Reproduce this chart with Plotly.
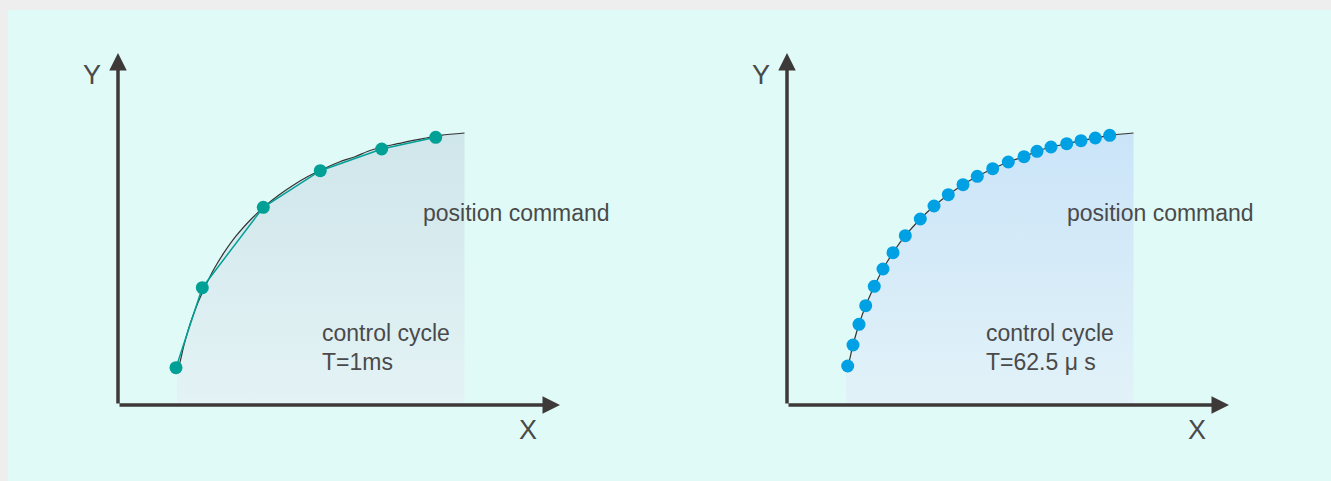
import plotly.graph_objects as go

# position command curve (same shape in both panels)
command_x = [59, 60.7, 66, 72, 78.7, 87.3, 96, 106, 118.3, 133.3, 147, 161.3, 176, 190.3,
             205.7, 221.3, 237, 250, 264, 279.7, 294, 308.3, 322.7, 346.5]
command_y = [37, 39, 60, 80.7, 99.3, 118.7, 136, 152.3, 169.3, 186, 199, 210.3, 220.3, 228.7,
             236.3, 243, 248.3, 253.7, 258, 261.3, 264.3, 267, 269.7, 272]

# samples at T=1ms
slow_x = [58, 84.3, 145.3, 202.3, 263.7, 317.7]
slow_y = [37.3, 117.3, 197.7, 234.3, 256, 267.7]

# samples at T=62.5us
fast_x = [60.7, 66, 72, 78.7, 87.3, 96, 106, 118.3, 133.3, 147, 161.3, 176, 190.3, 205.7,
          221.3, 237, 250, 264, 279.7, 294, 308.3, 322.7]
fast_y = [39, 60, 80.7, 99.3, 118.7, 136, 152.3, 169.3, 186, 199, 210.3, 220.3, 228.7, 236.3,
          243, 248.3, 253.7, 258, 261.3, 264.3, 267, 269.7]

panels = [
    dict(xa="x", ya="y", dots_x=slow_x, dots_y=slow_y, dot_color="#00A096",
         link_color="#00A096", fill=["#E4F3F5", "#CFE6EB"],
         cycle="T=1ms", label_x=[303, 202]),
    dict(xa="x2", ya="y2", dots_x=fast_x, dots_y=fast_y, dot_color="#00A0E4",
         link_color=None, fill=["#E2F2F8", "#CAE4F8"],
         cycle="T=62.5 μ s", label_x=[278, 197]),
]

ink = "#3d3939"
text_col = "#4a4a4a"
font = "Liberation Sans, Arial, sans-serif"

fig = go.Figure()
annotations = []

for p in panels:
    # shaded area under the command
    fig.add_trace(go.Scatter(
        x=command_x, y=command_y, xaxis=p["xa"], yaxis=p["ya"],
        mode="none", fill="tozeroy",
        fillgradient=dict(type="vertical", start=0, stop=272,
                          colorscale=[[0, p["fill"][0]], [1, p["fill"][1]]]),
        hoverinfo="skip"))
    # command curve
    fig.add_trace(go.Scatter(
        x=command_x, y=command_y, xaxis=p["xa"], yaxis=p["ya"],
        mode="lines", line=dict(color="#333333", width=1.2, shape="spline"),
        hoverinfo="skip"))
    # sampled points
    fig.add_trace(go.Scatter(
        x=p["dots_x"], y=p["dots_y"], xaxis=p["xa"], yaxis=p["ya"],
        mode="lines+markers" if p["link_color"] else "markers",
        line=dict(color=p["link_color"] or p["dot_color"], width=1.5),
        marker=dict(color=p["dot_color"], size=13)))

    # axis arrows
    for tip in [(0, 352), (442, 0)]:
        annotations.append(dict(
            x=tip[0], y=tip[1], ax=0, ay=0, xref=p["xa"], yref=p["ya"],
            axref=p["xa"], ayref=p["ya"], text="", showarrow=True,
            arrowhead=2, arrowsize=1.0, arrowwidth=3.5, arrowcolor=ink))

    annotations += [
        dict(x=-26, y=330, text="Y", xref=p["xa"], yref=p["ya"], showarrow=False,
             font=dict(size=27, color=text_col, family=font)),
        dict(x=410, y=-25, text="X", xref=p["xa"], yref=p["ya"], showarrow=False,
             font=dict(size=27, color=text_col, family=font)),
        dict(x=p["label_x"][0], y=192, text="position command",
             xref=p["xa"], yref=p["ya"], showarrow=False, xanchor="left",
             font=dict(size=23, color=text_col, family=font)),
        dict(x=p["label_x"][1], y=72, text="control cycle",
             xref=p["xa"], yref=p["ya"], showarrow=False, xanchor="left",
             font=dict(size=23, color=text_col, family=font)),
        dict(x=p["label_x"][1], y=43, text=p["cycle"],
             xref=p["xa"], yref=p["ya"], showarrow=False, xanchor="left",
             font=dict(size=23, color=text_col, family=font)),
    ]

hidden = dict(visible=False, showgrid=False, zeroline=False, fixedrange=True)
fig.update_layout(
    width=1331, height=481,
    margin=dict(l=0, r=0, t=0, b=0),
    paper_bgcolor="#EEEEEE",
    plot_bgcolor="rgba(0,0,0,0)",
    showlegend=False,
    xaxis=dict(domain=[0, 0.5], range=[-118, 547.5], **hidden),
    xaxis2=dict(domain=[0.5, 1], range=[-121.5, 544], **hidden),
    yaxis=dict(domain=[0, 1], range=[-76, 405], **hidden),
    yaxis2=dict(domain=[0, 1], range=[-76, 405], anchor="x2", **hidden),
    shapes=[dict(type="rect", xref="paper", yref="paper", x0=8 / 1331, x1=1,
                 y0=0, y1=471 / 481, fillcolor="#E0FAF7", line=dict(width=0),
                 layer="below")],
    annotations=annotations,
)

fig.write_html("out.html", config={"displayModeBar": False},
               post_script="document.body.style.margin='0px';document.body.style.overflow='hidden';")
